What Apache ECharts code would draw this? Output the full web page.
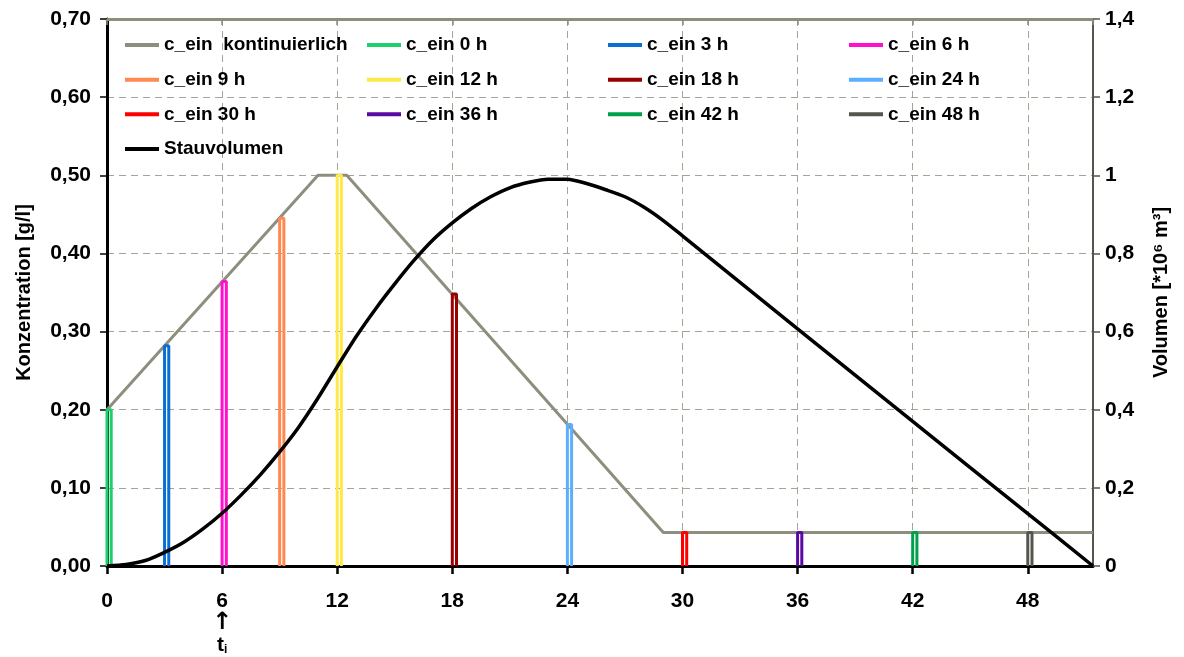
<!DOCTYPE html>
<html>
<head>
<meta charset="utf-8">
<script src="https://cdn.jsdelivr.net/npm/echarts@6/dist/echarts.min.js"></script>
<style>
html,body{margin:0;padding:0;background:#fff;}
#chart{width:1184px;height:657px;}
</style>
</head>
<body>
<div id="chart"></div>
<script>
// ---- data ----
const contTime = [0, 11, 12.5, 29, 51.4];
const contConc = [0.20, 0.50, 0.50, 0.043, 0.043];

const pulseTimes = [0, 3, 6, 9, 12, 18, 24, 30, 36, 42, 48];
const pulseConc = [0.20, 0.282, 0.364, 0.445, 0.50, 0.348, 0.181, 0.043, 0.043, 0.043, 0.043];
const pulseNames = ['c_ein 0 h','c_ein 3 h','c_ein 6 h','c_ein 9 h','c_ein 12 h','c_ein 18 h','c_ein 24 h','c_ein 30 h','c_ein 36 h','c_ein 42 h','c_ein 48 h'];
const pulseDuration = 0.22;

const volTime = [0,1,2,3,4,5,6,7,8,9,10,11,12,13,14,15,16,17,18,19,20,21,22,23,24,25,26,27,28,29,30,36,42,48,51.4];
const volValue = [0,0.004,0.014,0.035,0.061,0.095,0.135,0.182,0.234,0.292,0.356,0.430,0.510,0.588,0.658,0.722,0.782,0.835,0.878,0.915,0.945,0.968,0.982,0.990,0.990,0.979,0.963,0.945,0.918,0.884,0.845,0.607,0.370,0.134,0];

const xTicks = [0, 6, 12, 18, 24, 30, 36, 42, 48];

// ---- styles ----
const pulseColors = ['#1ecf6e','#0a6ed2','#ff10cc','#ff8a50','#ffe84a','#990000','#5ab0ff','#ff0000','#5a0aa0','#00a04a','#55554e'];
const contColor = '#8e8e7e';
const FONT = 'Liberation Sans, Arial, sans-serif';

const series = [];
series.push({
  name: 'c_ein  kontinuierlich', type: 'line', yAxisIndex: 0,
  data: contTime.map((t, i) => [t, contConc[i]]),
  showSymbol: false, symbol: 'none',
  lineStyle: { color: contColor, width: 3 }, itemStyle: { color: contColor },
  z: 2
});
pulseTimes.forEach((t, i) => {
  const v = pulseConc[i];
  series.push({
    name: pulseNames[i], type: 'line', yAxisIndex: 0,
    data: [[t, 0], [t, v], [t + pulseDuration, v], [t + pulseDuration, 0]],
    showSymbol: false, symbol: 'none',
    lineStyle: { color: pulseColors[i], width: 3 }, itemStyle: { color: pulseColors[i] },
    z: 3
  });
});
series.push({
  name: 'Stauvolumen', type: 'line', yAxisIndex: 1,
  data: volTime.map((t, i) => [t, volValue[i]]),
  showSymbol: false, symbol: 'none', smooth: 0.25,
  lineStyle: { color: '#000', width: 3.5 }, itemStyle: { color: '#000' },
  z: 4
});

const legendBase = {
  orient: 'vertical', top: 34, padding: 0, itemGap: 12.67,
  icon: 'rect', itemWidth: 34, itemHeight: 4, selectedMode: false,
  textStyle: { fontFamily: FONT, fontWeight: 'bold', fontSize: 19, color: '#000', lineHeight: 22 }
};
const legendCols = [
  { left: 125, data: ['c_ein  kontinuierlich', 'c_ein 9 h', 'c_ein 30 h', 'Stauvolumen'] },
  { left: 367, data: ['c_ein 0 h', 'c_ein 12 h', 'c_ein 36 h'] },
  { left: 608, data: ['c_ein 3 h', 'c_ein 18 h', 'c_ein 42 h'] },
  { left: 849, data: ['c_ein 6 h', 'c_ein 24 h', 'c_ein 48 h'] }
].map(c => Object.assign({}, legendBase, c));

const gridDash = { color: '#a3a396', width: 1, type: [7, 5] };

const option = {
  animation: false,
  backgroundColor: '#fff',
  grid: { left: 107, right: 91, top: 19, bottom: 91, outerBoundsMode: 'none', containLabel: false },
  legend: legendCols,
  xAxis: [{
    type: 'value', min: 0, max: 51.4, interval: 6, position: 'bottom',
    name: 'Zeit [h]', nameLocation: 'middle', nameGap: 61,
    nameTextStyle: { fontFamily: FONT, fontWeight: 'bold', fontSize: 20, color: '#000' },
    axisLine: { show: true, onZero: false, lineStyle: { color: '#000', width: 3 } },
    axisTick: { show: true, length: 8, lineStyle: { color: '#000', width: 2.5 } },
    splitLine: { show: true, showMinLine: false, showMaxLine: false, lineStyle: gridDash },
    axisLabel: {
      show: true, margin: 24, showMaxLabel: false,
      fontFamily: FONT, fontWeight: 'bold', fontSize: 21, color: '#000', lineHeight: 22,
      formatter: function (v) {
        if (xTicks.indexOf(v) < 0) return '';
        if (v === 6) return '6\n{arr|↑}\n{t|t}{s|i}';
        return String(v);
      },
      rich: {
        arr: { fontFamily: 'DejaVu Sans', fontSize: 24, fontWeight: 'bold', color: '#000', lineHeight: 22 },
        t: { fontFamily: FONT, fontSize: 21, fontWeight: 'bold', color: '#000', lineHeight: 22 },
        s: { fontFamily: FONT, fontSize: 12, fontWeight: 'bold', color: '#000', lineHeight: 22, padding: [10, 0, 0, 0] }
      }
    }
  }, {
    type: 'value', min: 0, max: 51.4, interval: 6, position: 'top',
    axisLine: { show: true, onZero: false, lineStyle: { color: contColor, width: 3 } },
    axisTick: { show: true, inside: true, length: 6, lineStyle: { color: '#8e8e7e', width: 1.5 } },
    axisLabel: { show: false }, splitLine: { show: false }
  }],
  yAxis: [{
    type: 'value', min: 0, max: 0.7, interval: 0.1, position: 'left',
    name: 'Konzentration [g/l]', nameLocation: 'middle', nameGap: 73, nameRotate: 90,
    nameTextStyle: { fontFamily: FONT, fontWeight: 'bold', fontSize: 20, color: '#000' },
    axisLine: { show: true, onZero: false, lineStyle: { color: '#000', width: 3 } },
    axisTick: { show: true, length: 7, lineStyle: { color: '#000', width: 1.5 } },
    splitLine: { show: true, showMinLine: false, showMaxLine: false, lineStyle: gridDash },
    axisLabel: {
      margin: 16, fontFamily: FONT, fontWeight: 'bold', fontSize: 21, color: '#000',
      formatter: v => v.toFixed(2).replace('.', ',')
    }
  }, {
    type: 'value', min: 0, max: 1.4, interval: 0.2, position: 'right',
    name: 'Volumen [*10⁶ m³]', nameLocation: 'middle', nameGap: 58, nameRotate: 90,
    nameTextStyle: { fontFamily: FONT, fontWeight: 'bold', fontSize: 20, color: '#000' },
    axisLine: { show: true, onZero: false, lineStyle: { color: '#55554e', width: 2 } },
    axisTick: { show: true, length: 7, lineStyle: { color: '#55554e', width: 1.5 } },
    splitLine: { show: false },
    axisLabel: {
      margin: 12, fontFamily: FONT, fontWeight: 'bold', fontSize: 21, color: '#000',
      formatter: v => String(Math.round(v * 10) / 10).replace('.', ',')
    }
  }],
  series: series
};

const chart = echarts.init(document.getElementById('chart'), null, { renderer: 'canvas' });
chart.setOption(option);
</script>
</body>
</html>
